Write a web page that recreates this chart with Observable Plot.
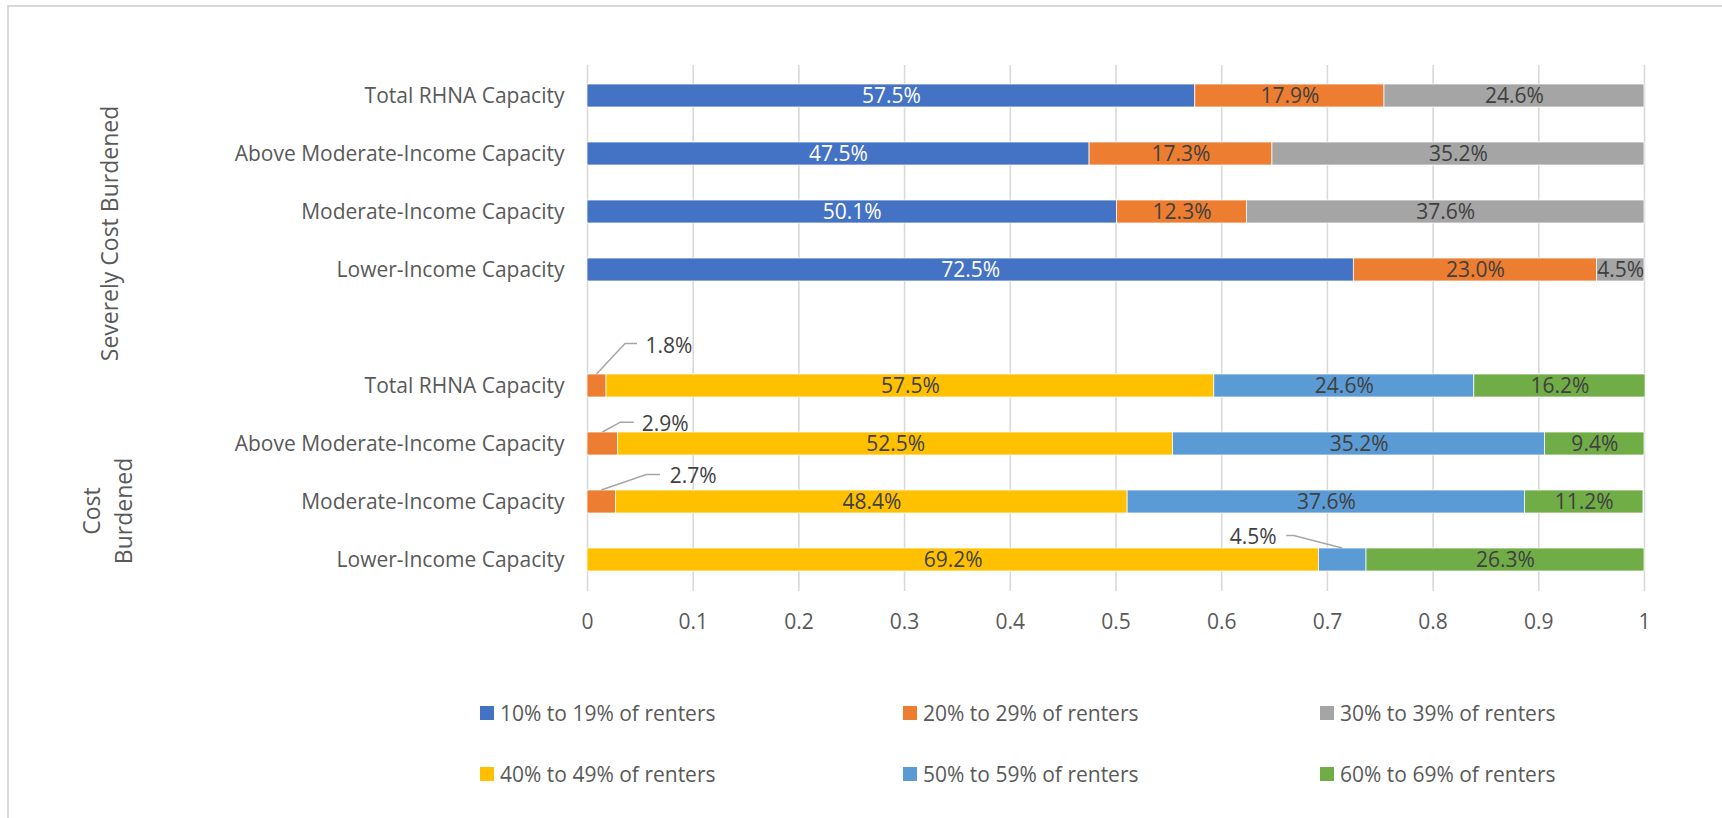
<!DOCTYPE html>
<html>
<head>
<meta charset="utf-8">
<script src="https://cdn.jsdelivr.net/npm/d3@7"></script>
<script src="https://cdn.jsdelivr.net/npm/@observablehq/plot@0.6"></script>
<style>
  html, body { margin: 0; padding: 0; background: #fff; }
  body { width: 1722px; height: 818px; position: relative; overflow: hidden; font-family: "Open Sans", sans-serif; }
  #frame { position: absolute; left: 7px; top: 5px; width: 1800px; height: 900px; border: 2px solid #d9d9d9; box-sizing: border-box; pointer-events: none; }
  #chart { position: absolute; left: 0; top: 0; }
  .lg { position: absolute; display: flex; align-items: center; font-size: 21px; color: #595959; white-space: nowrap; }
  .lg .sw { width: 14px; height: 14px; margin-right: 6px; }
</style>
</head>
<body>
<div id="frame"></div>
<div id="chart"></div>
<div id="legend"></div>
<script>
// ---- data ----
const categories = ["Total RHNA Capacity", "Above Moderate-Income Capacity", "Moderate-Income Capacity", "Lower-Income Capacity"];
const groups = ["Severely Cost Burdened", "Cost Burdened"];
const seriesNames = ["10% to 19% of renters", "20% to 29% of renters", "30% to 39% of renters", "40% to 49% of renters", "50% to 59% of renters", "60% to 69% of renters"];
const seriesColors = ["#4472C4", "#ED7D31", "#A5A5A5", "#FFC000", "#5B9BD5", "#70AD47"];

// values (%) in category order
const severe10to19 = [57.5, 47.5, 50.1, 72.5];
const severe20to29 = [17.9, 17.3, 12.3, 23.0];
const severe30to39 = [24.6, 35.2, 37.6, 4.5];
const cost20to29 = [1.8, 2.9, 2.7, 0];
const cost40to49 = [57.5, 52.5, 48.4, 69.2];
const cost50to59 = [24.6, 35.2, 37.6, 4.5];
const cost60to69 = [16.2, 9.4, 11.2, 26.3];

const xTicks = [0, 0.1, 0.2, 0.3, 0.4, 0.5, 0.6, 0.7, 0.8, 0.9, 1];

// which segments are labelled with a callout instead of an inside label
const callouts = [
  {group: "Cost Burdened", category: "Total RHNA Capacity", series: "20% to 29% of renters"},
  {group: "Cost Burdened", category: "Above Moderate-Income Capacity", series: "20% to 29% of renters"},
  {group: "Cost Burdened", category: "Moderate-Income Capacity", series: "20% to 29% of renters"},
  {group: "Cost Burdened", category: "Lower-Income Capacity", series: "50% to 59% of renters"}
];
// callout layout (pixel offsets from segment centre)
const calloutLayout = [
  {elbow: [28.5, -42], end: [40.5, -42], label: [48.5, -40], anchor: "start"},
  {elbow: [18, -21.3], end: [31.5, -21.3], label: [39, -19.3], anchor: "start"},
  {elbow: [45, -27], end: [58.7, -27], label: [68, -26], anchor: "start"},
  {elbow: [-48.5, -24.1], end: [-56, -24.1], label: [-66, -22.4], anchor: "end"}
];

// ---- build table ----
const keyOf = (g, c) => g + "|" + c;
const yDomain = [
  ...categories.map(c => keyOf(groups[0], c)),
  "gap",
  ...categories.map(c => keyOf(groups[1], c))
];
const seriesData = [
  [groups[0], seriesNames[0], severe10to19],
  [groups[0], seriesNames[1], severe20to29],
  [groups[0], seriesNames[2], severe30to39],
  [groups[1], seriesNames[1], cost20to29],
  [groups[1], seriesNames[3], cost40to49],
  [groups[1], seriesNames[4], cost50to59],
  [groups[1], seriesNames[5], cost60to69]
];
const rows = [];
for (const [g, s, vals] of seriesData) {
  vals.forEach((v, i) => {
    if (v > 0) rows.push({key: keyOf(g, categories[i]), group: g, category: categories[i], series: s, value: v / 100});
  });
}
const isCallout = d => callouts.some(c => c.group === d.group && c.category === d.category && c.series === d.series);
const fmt = d => (d.value * 100).toFixed(1) + "%";

// segment midpoints for callouts (from the same data)
const calloutRows = callouts.map((c, i) => {
  const key = keyOf(c.group, c.category);
  const segs = rows.filter(r => r.key === key);
  let acc = 0, mid = 0, val = 0;
  for (const r of segs) {
    if (r.series === c.series) { mid = acc + r.value / 2; val = r.value; }
    acc += r.value;
  }
  return {key, mid, value: val, ...calloutLayout[i]};
});

function leaderLines(index, scales) {
  const g = d3.create("svg:g");
  const bw = scales.y.bandwidth ? scales.y.bandwidth() : 0;
  for (const c of calloutRows) {
    const cx = scales.x(c.mid);
    const cy = scales.y(c.key) + bw / 2;
    g.append("path")
      .attr("d", `M${cx},${cy - bw / 2}L${cx + c.elbow[0]},${cy + c.elbow[1]}L${cx + c.end[0]},${cy + c.end[1]}`)
      .attr("fill", "none")
      .attr("stroke", "#a6a6a6")
      .attr("stroke-width", 1.5);
  }
  return g.node();
}

const W = 1722, H = 660;
const plot = Plot.plot({
  width: W,
  height: H,
  marginLeft: 587,
  marginRight: 78,
  marginTop: 65,
  marginBottom: 69,
  style: {fontFamily: "'Open Sans', sans-serif", fontSize: "21px", color: "#595959", background: "transparent"},
  x: {domain: [0, 1], ticks: xTicks, tickFormat: d => String(+d.toFixed(1)), tickSize: 0, tickPadding: 23, label: null},
  y: {domain: yDomain, paddingInner: 0.6, paddingOuter: 0.3, tickSize: 0, tickPadding: 23, label: null,
      tickFormat: k => k === "gap" ? "" : k.split("|")[1]},
  color: {domain: seriesNames, range: seriesColors},
  marks: [
    Plot.ruleX(xTicks, {stroke: "#d9d9d9", strokeWidth: 1.6}),
    Plot.barX(rows, {y: "key", x: "value", fill: "series", stroke: "#ffffff", strokeWidth: 0.75}),
    Plot.text(rows, Plot.stackX({y: "key", x: "value", text: d => (!isCallout(d) && d.series === seriesNames[0]) ? fmt(d) : "", fill: "#ffffff"})),
    Plot.text(rows, Plot.stackX({y: "key", x: "value", text: d => (!isCallout(d) && d.series !== seriesNames[0]) ? fmt(d) : "", fill: "#404040"})),
    leaderLines,
    ...calloutRows.map(c => Plot.text([c], {x: "mid", y: "key", text: d => (d.value * 100).toFixed(1) + "%", dx: c.label[0], dy: c.label[1], textAnchor: c.anchor, fill: "#404040"})),
    Plot.text([groups[0]], {frameAnchor: "top-left", dx: 110 - 587, dy: 233 - 65, rotate: -90, textAnchor: "middle", lineAnchor: "middle", fontSize: 23, fill: "#595959"}),
    Plot.text(["Cost\nBurdened"], {frameAnchor: "top-left", dx: 105 - 587, dy: 510.5 - 65, rotate: -90, textAnchor: "middle", lineAnchor: "middle", lineHeight: 1.42, fontSize: 23, fill: "#595959"})
  ]
});
document.getElementById("chart").appendChild(plot);

// ---- legend (HTML, below the svg) ----
const legendCols = [480, 903, 1320];
const legendRows = [706, 767];
const legend = document.getElementById("legend");
seriesNames.forEach((name, i) => {
  const item = document.createElement("div");
  item.className = "lg";
  item.style.left = legendCols[i % 3] + "px";
  item.style.top = (legendRows[Math.floor(i / 3)] - 8) + "px";
  item.style.height = "30px";
  const sw = document.createElement("span");
  sw.className = "sw";
  sw.style.background = seriesColors[i];
  const tx = document.createElement("span");
  tx.textContent = name;
  item.appendChild(sw);
  item.appendChild(tx);
  legend.appendChild(item);
});
</script>
</body>
</html>
